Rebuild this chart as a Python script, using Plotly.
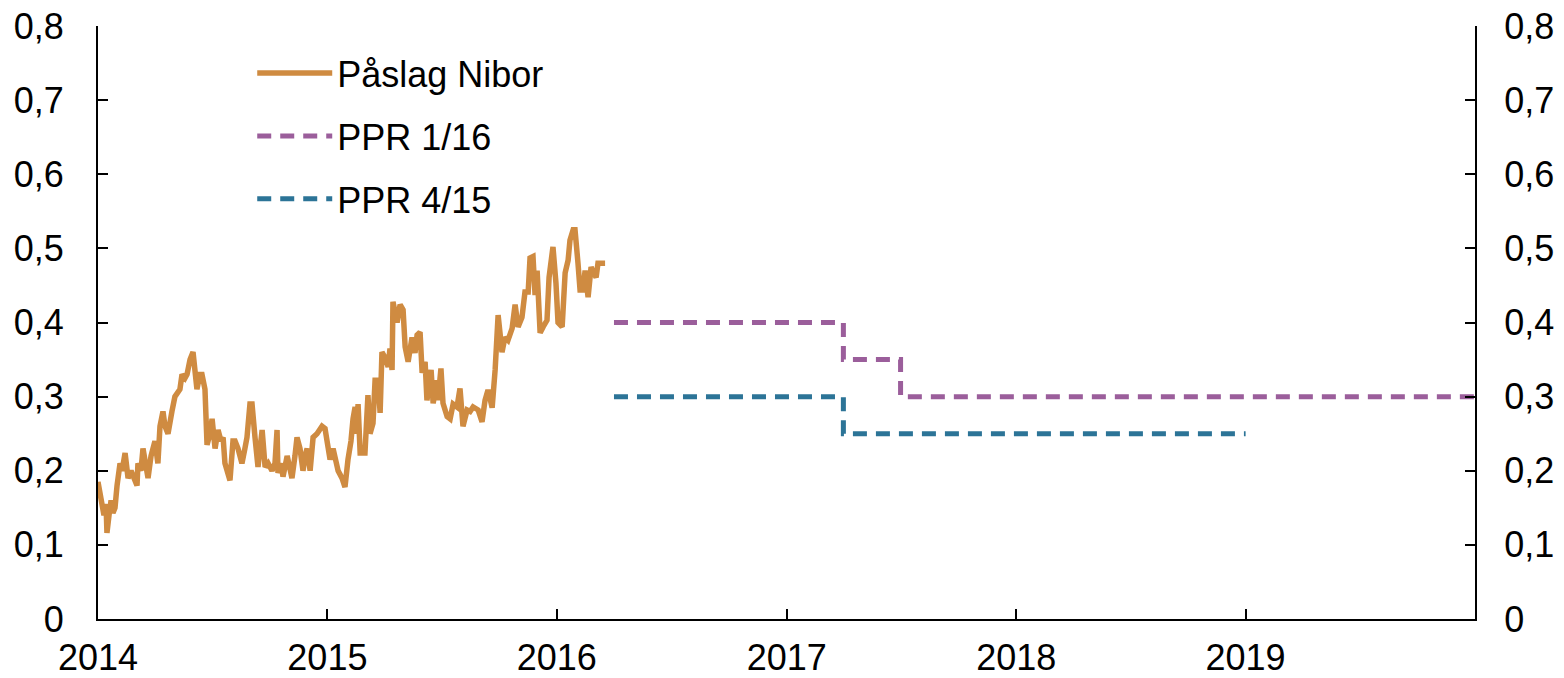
import numpy as np
import pandas as pd
import plotly.graph_objects as go

# Påslag Nibor: time in decimal years (offset from 2014) and values (percentage points)
nibor_t = [0.000, 0.009, 0.017, 0.026, 0.035, 0.039, 0.048, 0.057, 0.065, 0.074, 0.083, 0.096, 0.105, 0.118,
           0.131, 0.144, 0.157, 0.170, 0.174, 0.187, 0.196, 0.209, 0.218, 0.231, 0.248, 0.261, 0.270, 0.283,
           0.292, 0.305, 0.314, 0.322, 0.335, 0.349, 0.357, 0.366, 0.379, 0.388, 0.401, 0.414, 0.423, 0.431,
           0.444, 0.453, 0.466, 0.475, 0.488, 0.497, 0.510, 0.523, 0.536, 0.545, 0.553, 0.562, 0.575, 0.588,
           0.597, 0.610, 0.627, 0.640, 0.649, 0.662, 0.671, 0.684, 0.697, 0.706, 0.715, 0.728, 0.741, 0.758,
           0.771, 0.780, 0.784, 0.797, 0.806, 0.824, 0.837, 0.845, 0.858, 0.867, 0.880, 0.893, 0.902, 0.911,
           0.924, 0.937, 0.954, 0.976, 0.989, 0.998, 1.011, 1.024, 1.037, 1.046, 1.063, 1.076, 1.089, 1.102,
           1.111, 1.120, 1.128, 1.133, 1.142, 1.155, 1.163, 1.176, 1.185, 1.198, 1.207, 1.220, 1.229, 1.237,
           1.250, 1.264, 1.272, 1.281, 1.285, 1.303, 1.316, 1.329, 1.338, 1.351, 1.368, 1.381, 1.390, 1.403,
           1.412, 1.425, 1.433, 1.451, 1.460, 1.477, 1.481, 1.494, 1.503, 1.521, 1.534, 1.547, 1.564, 1.577,
           1.590, 1.608, 1.621, 1.634, 1.656, 1.673, 1.686, 1.699, 1.717, 1.730, 1.743, 1.760, 1.773, 1.786,
           1.804, 1.817, 1.830, 1.847, 1.860, 1.874, 1.882, 1.895, 1.904, 1.913, 1.926, 1.939, 1.956, 1.965,
           1.982, 1.995, 2.004, 2.022, 2.035, 2.048, 2.056, 2.070, 2.078, 2.091, 2.100, 2.113, 2.122, 2.135,
           2.148, 2.157, 2.170, 2.178, 2.200, 2.209]
nibor_v = [0.185, 0.17, 0.16, 0.14, 0.155, 0.116, 0.14, 0.16, 0.143, 0.15, 0.18, 0.21, 0.2, 0.224,
           0.19, 0.2, 0.19, 0.18, 0.21, 0.2, 0.23, 0.21, 0.19, 0.22, 0.24, 0.21, 0.26, 0.28,
           0.26, 0.25, 0.27, 0.28, 0.30, 0.305, 0.31, 0.33, 0.325, 0.33, 0.35, 0.36, 0.33, 0.31,
           0.33, 0.33, 0.31, 0.235, 0.25, 0.27, 0.23, 0.255, 0.24, 0.245, 0.21, 0.2, 0.187, 0.24,
           0.24, 0.23, 0.21, 0.23, 0.245, 0.29, 0.29, 0.245, 0.205, 0.23, 0.255, 0.205, 0.21, 0.2,
           0.21, 0.255, 0.197, 0.21, 0.192, 0.22, 0.2, 0.19, 0.22, 0.245, 0.23, 0.2, 0.22, 0.23,
           0.2, 0.245, 0.25, 0.26, 0.257, 0.24, 0.215, 0.23, 0.21, 0.2, 0.19, 0.178, 0.215, 0.24,
           0.27, 0.286, 0.25, 0.29, 0.224, 0.224, 0.224, 0.302, 0.25, 0.264, 0.322, 0.322, 0.278, 0.36,
           0.353, 0.34, 0.365, 0.336, 0.428, 0.4, 0.424, 0.417, 0.367, 0.347, 0.38, 0.359, 0.383, 0.387,
           0.332, 0.347, 0.295, 0.336, 0.291, 0.322, 0.295, 0.338, 0.291, 0.273, 0.27, 0.29, 0.286, 0.311,
           0.26, 0.282, 0.28, 0.286, 0.282, 0.266, 0.295, 0.309, 0.285, 0.336, 0.41, 0.36, 0.38, 0.376,
           0.392, 0.424, 0.394, 0.407, 0.441, 0.441, 0.487, 0.489, 0.437, 0.47, 0.386, 0.394, 0.403, 0.461,
           0.502, 0.453, 0.4, 0.394, 0.467, 0.484, 0.511, 0.525, 0.525, 0.48, 0.444, 0.444, 0.47, 0.434,
           0.475, 0.468, 0.461, 0.48, 0.48, 0.48]

ppr116_dates = ["2016-04-01", "2017-04-01", "2017-07-01", "2019-12-31"]
ppr116_vals = [0.40, 0.35, 0.30, 0.30]
ppr415_dates = ["2016-04-01", "2017-04-01", "2019-01-01"]
ppr415_vals = [0.30, 0.25, 0.25]

year_ticks = ["2014", "2015", "2016", "2017", "2018", "2019"]
y_tickvals = [0, 0.1, 0.2, 0.3, 0.4, 0.5, 0.6, 0.7, 0.8]
y_ticktext = ["0", "0,1", "0,2", "0,3", "0,4", "0,5", "0,6", "0,7", "0,8"]

ORANGE = "#CF8B41"
PURPLE = "#9B5E9B"
BLUE = "#2C7497"
FONT = "Liberation Sans, Arial, sans-serif"
FS = 36

nibor_dates = pd.Timestamp("2014-01-01") + pd.to_timedelta(np.array(nibor_t) * 365.25, unit="D")

fig = go.Figure()
fig.add_trace(go.Scatter(x=nibor_dates, y=nibor_v, mode="lines", name="Påslag Nibor",
                         line=dict(color=ORANGE, width=5.5), legendgroup="a"))
fig.add_trace(go.Scatter(x=ppr116_dates, y=ppr116_vals, mode="lines", name="PPR 1/16",
                         line=dict(color=PURPLE, width=5, dash="14px,9px", shape="hv"), legendgroup="b"))
fig.add_trace(go.Scatter(x=ppr415_dates, y=ppr415_vals, mode="lines", name="PPR 4/15",
                         line=dict(color=BLUE, width=5, dash="14px,9px", shape="hv"), legendgroup="c"))
fig.add_trace(go.Scatter(x=[None], y=[None], yaxis="y2", showlegend=False, hoverinfo="skip"))

axis_common = dict(showgrid=False, zeroline=False, showline=True, linecolor="black", linewidth=2,
                   ticks="inside", ticklen=10, tickwidth=2, tickcolor="black", automargin=False,
                   ticklabeloverflow="allow",
                   tickfont=dict(family=FONT, size=FS, color="black"))

fig.update_layout(
    width=1564, height=678,
    margin=dict(l=98, r=89, t=26, b=59),
    paper_bgcolor="white", plot_bgcolor="white",
    font=dict(family=FONT, size=FS, color="black"),
    xaxis=dict(type="date", range=["2014-01-01", "2020-01-01"],
               tickvals=[f"{y}-01-01" for y in year_ticks], ticktext=year_ticks,
               ticklabelstandoff=6, **axis_common),
    yaxis=dict(range=[0, 0.8], tickvals=y_tickvals, ticktext=y_ticktext,
               ticklabelstandoff=25, **axis_common),
    yaxis2=dict(range=[0, 0.8], tickvals=y_tickvals, ticktext=y_ticktext, overlaying="y",
                side="right", ticklabelstandoff=20, **axis_common),
    legend=dict(x=0.112, y=0.971, xanchor="left", yanchor="top", bgcolor="rgba(0,0,0,0)",
                font=dict(family=FONT, size=FS, color="black"), itemwidth=75,
                tracegroupgap=13),
    showlegend=True,
)

# remove the default page margin so the figure sits at the window's top-left corner
fig.write_html("out.html", config={"displayModeBar": False},
               post_script="document.body.style.margin='0';")
